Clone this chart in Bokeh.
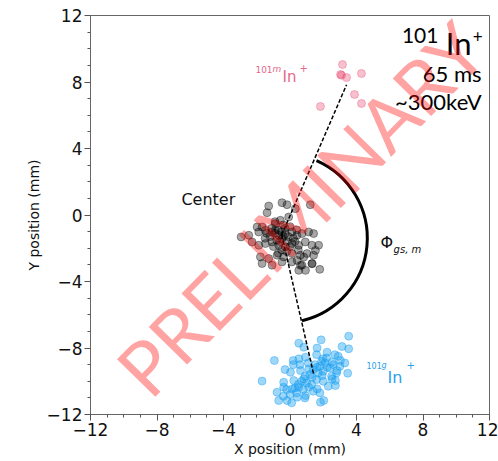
import numpy as np
from bokeh.plotting import figure
from bokeh.models import Label, FixedTicker, CustomJSTickFormatter, Range1d
from bokeh.embed import file_html
from bokeh.resources import INLINE

# ---- data ----
ticks = [-12, -8, -4, 0, 4, 8, 12]
minor = list(range(-12, 13))

m_x = [3.16, 3.04, 3.40, 4.30, 3.88, 4.30, 1.83, 3.10]
m_y = [9.05, 8.45, 8.27, 8.51, 7.25, 6.71, 6.53, 8.40]

c_x = [-1.28, -1.38, 1.22, -0.48, -0.18, -2.94, -2.48, -1.98, -1.68, -1.88, -1.48, -1.08, -0.88, -0.68,
       -0.48, -0.28, 0.12, 0.42, 0.72, 1.12, 1.42, -2.28, -1.88, -1.48, -1.08, -0.68, -0.28, 0.12, 0.52,
       0.92, 1.32, 1.72, -1.78, -1.28, -0.78, -0.38, 0.12, 0.62, 1.02, 1.42, -1.68, -1.08, -0.48, 0.12,
       0.72, 1.32, -0.08, -0.58, -0.88, 0.32, 1.53, 0.83, 0.43, 0.63, 0.93, 1.33, 1.79, 0.53,
       -1.1, -0.9, -0.7, -0.5, -0.3, -0.1, 0.2, -1.2, -0.8, -0.6, -0.4, -0.2, 0.0, 0.3, -1.0, -0.5,
       -0.9, -0.4, 0.0, 0.4, -1.4, -0.7, 0.5, -1.5, -0.2]
c_y = [0.54, 0.14, 0.62, 0.74, 0.62, -1.32, -1.22, -0.72, -0.72, -1.02, -0.92, -1.02, -0.92, -1.22,
       -1.42, -1.12, -1.02, -1.22, -1.12, -1.02, -1.12, -1.62, -1.82, -1.72, -1.62, -1.82, -1.92, -1.72, -1.82,
       -1.62, -1.82, -1.82, -2.52, -2.62, -2.42, -2.52, -2.32, -2.42, -2.32, -2.42, -2.92, -3.02, -2.82, -2.82,
       -3.02, -2.92, -0.12, -0.32, -0.52, 0.38, -2.13, -2.53, -2.73, -3.03, -3.33, -2.93, -3.27, -3.33,
       -0.8, -1.1, -0.9, -1.0, -0.8, -1.3, -1.4, -1.3, -1.5, -1.6, -1.3, -1.6, -1.9, -1.6, -1.9, -2.1,
       -0.4, -0.6, -0.7, -0.9, -1.1, -2.3, -2.1, -1.4, -2.2]

g_x = [3.53, 1.87, 0.53, 0.83, 1.63, 2.23, 3.13, 3.53, -0.94, 0.19, 0.53, 0.93, 1.98, 2.53, 3.03,
       0.03, 0.63, 1.13, 1.63, 2.23, 2.83, 3.47, -1.68, -0.38, 0.23, 0.83, 1.33, 1.93, 2.53, 2.73,
       -0.78, -0.38, 0.13, 0.53, 1.13, 1.63, -0.68, -0.18, 0.43, 0.93, 1.83, 2.03, 2.73,
       1.5, 1.8, 2.1, 2.4, 2.0, 1.7, 1.4, 2.6, 2.2, 1.9, 1.2, 0.9, 1.0, 0.7, 0.5, 0.3, 0.8, 1.3, 1.6,
       0.4, 0.0, -0.2, 1.1, 2.8, 2.5, 3.0, 1.6, 0.6, 0.2, -0.3, 2.9, 3.3, 2.0, 1.4, 0.9, 0.1, -0.4,
       2.3, 1.8, 2.7]
g_y = [-7.29, -7.51, -7.71, -7.95, -8.00, -8.25, -7.91, -8.05, -8.75, -8.75, -8.65, -8.55, -8.65, -8.85, -8.75,
       -9.46, -9.36, -9.26, -9.16, -9.16, -9.36, -9.52, -9.99, -10.06, -9.96, -9.86, -9.76, -9.66, -9.86, -9.96,
       -10.66, -10.36, -10.46, -10.36, -10.36, -10.46, -11.16, -11.16, -10.96, -10.86, -11.26, -11.16, -10.26,
       -9.0, -9.1, -8.9, -9.2, -9.4, -9.5, -9.3, -9.0, -8.6, -8.8, -9.6, -9.7, -10.1, -10.0, -10.2, -10.4,
       -10.5, -10.2, -9.9, -10.7, -10.8, -10.5, -8.9, -9.5, -9.7, -9.1, -8.4, -9.0, -9.0, -9.3, -8.5,
       -8.9, -10.0, -10.6, -11.0, -11.3, -10.9, -10.3, -10.7, -8.4]

center_pt = (-0.5, -1.2)
m_tip = (3.40, 7.83)
g_tip = (1.43, -9.60)
arc_c = (-0.45, -1.40)
arc_r = 5.1
arc_deg = (-76.7, 66.4)

FONT = "DejaVu Sans"
SANS2 = "Lato"

p = figure(frame_width=399, frame_height=399, x_range=Range1d(-12, 12), y_range=Range1d(-12, 12),
           output_backend="svg", toolbar_location=None,
           min_border_left=90, min_border_right=9, min_border_top=15, min_border_bottom=10)
p.xgrid.visible = False
p.ygrid.visible = False
p.outline_line_color = "#666666"
p.background_fill_color = "white"
p.border_fill_color = "white"

fmt = CustomJSTickFormatter(code="return tick < 0 ? '\\u2212' + Math.abs(tick) : String(tick);")
for ax in (p.xaxis[0], p.yaxis[0]):
    ax.ticker = FixedTicker(ticks=ticks, minor_ticks=minor)
    ax.formatter = fmt
    ax.major_label_text_font = FONT
    ax.major_label_text_font_size = "17px"
    ax.major_label_text_color = "#111111"
    ax.axis_label_text_font = FONT
    ax.axis_label_text_font_size = "14px"
    ax.axis_label_text_font_style = "normal"
    ax.axis_label_text_color = "#111111"
    ax.axis_line_color = "#666666"
    ax.major_tick_line_color = "#555555"
    ax.minor_tick_line_color = "#555555"
    ax.major_tick_in = 0
    ax.major_tick_out = 6
    ax.minor_tick_in = 0
    ax.minor_tick_out = 3
    ax.major_label_standoff = 2
    ax.axis_label_standoff = 2
p.xaxis.axis_label = "X position (mm)"
p.yaxis.axis_label = "Y position (mm)"

p.scatter(m_x, m_y, size=8, fill_color="#e8406a", fill_alpha=0.33, line_color="#e8406a", line_alpha=0.33)
p.scatter(c_x, c_y, size=8, fill_color="black", fill_alpha=0.35, line_color="black", line_alpha=0.35)
p.scatter(g_x, g_y, size=8, fill_color="#1a9ff0", fill_alpha=0.42, line_color="#1a9ff0", line_alpha=0.42)

p.segment(x0=[center_pt[0], center_pt[0]], y0=[center_pt[1], center_pt[1]],
          x1=[m_tip[0], g_tip[0]], y1=[m_tip[1], g_tip[1]],
          line_color="black", line_width=1.5, line_dash="4 2")
p.arc(x=[arc_c[0]], y=[arc_c[1]], radius=arc_r,
      start_angle=np.deg2rad(arc_deg[0]), end_angle=np.deg2rad(arc_deg[1]),
      line_color="black", line_width=3)

def lab(x, y, t, size, color="#111111", font=FONT, align="left", style="normal", **kw):
    p.add_layout(Label(x=x, y=y, text=t, text_font=font, text_font_size=size, text_color=color,
                       text_align=align, text_baseline="middle", text_font_style=style, **kw))

lab(-6.53, 0.93, "Center", "16px")
lab(5.44, -1.68, "\u03a6", "16px")
lab(6.23, -2.05, "gs, m", "10px", style="italic")

pink = "#e5688a"
lab(-2.08, 8.78, "101", "9px", color=pink)
lab(-1.05, 8.78, "m", "9px", color=pink, style="italic")
lab(-0.45, 8.30, "In", "15px", color=pink)
lab(0.57, 8.87, "+", "10px", color=pink)

blue = "#2a9fec"
lab(4.60, -9.05, "101", "8px", color=blue)
lab(5.50, -9.05, "g", "8px", color=blue, style="italic")
lab(5.86, -9.77, "In", "16px", color=blue)
lab(7.01, -9.05, "+", "10px", color=blue)

lab(8.93, 10.77, "101", "21px", font=SANS2, align="right", color="black")
lab(10.92, 10.32, "In", "31px", font=SANS2, align="right", color="black")
lab(11.58, 10.71, "+", "17px", font=SANS2, align="right", color="black")
lab(11.52, 8.54, "65 ms", "22px", font=SANS2, align="right", color="black")
lab(11.52, 6.83, "~300keV", "22px", font=SANS2, align="right", color="black")

p.add_layout(Label(x=0.6, y=0.4, text="PRELIMINARY", text_font=SANS2, text_font_size="75px",
                   text_color="red", text_alpha=0.36, text_align="center", text_baseline="middle",
                   angle=np.deg2rad(45.5)))

open("out.html", "w").write(file_html(p, INLINE))
